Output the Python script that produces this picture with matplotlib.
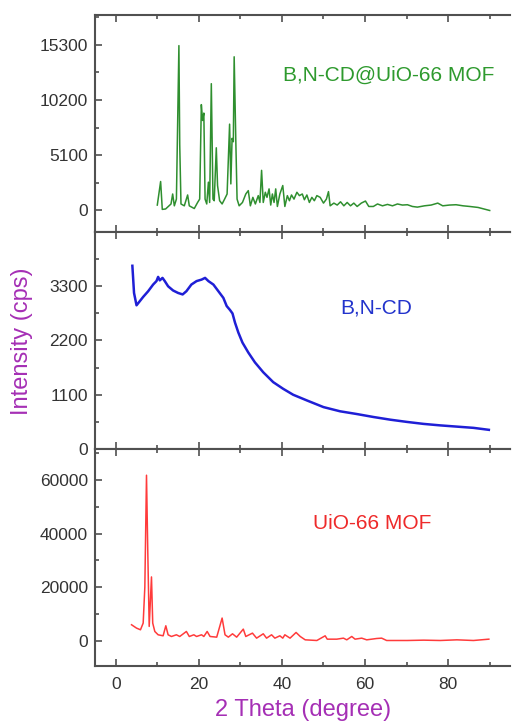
import matplotlib
matplotlib.use("Agg")
import matplotlib.pyplot as plt
from matplotlib.ticker import MultipleLocator

plt.rcParams["font.family"] = ["Liberation Sans", "DejaVu Sans"]

# B,N-CD@UiO-66 MOF
comp_2t = [10.0, 10.8, 11.2, 12.0, 13.3, 13.7, 14.1, 14.6, 15.2, 15.4, 15.7, 16.5, 17.3, 17.7,
           18.9, 19.7, 20.2, 20.6, 20.9, 21.2, 21.5, 21.9, 22.3, 22.6, 23.0, 23.4, 23.7, 24.2,
           24.5, 25.0, 25.6, 26.2, 26.8, 27.4, 27.7, 28.0, 28.3, 28.5, 28.9, 29.2, 29.7, 30.5,
           31.3, 31.9, 32.4, 33.0, 33.6, 34.3, 34.7, 35.1, 35.5, 36.0, 36.4, 36.9, 37.3, 37.7,
           38.1, 38.5, 38.9, 39.5, 40.2, 40.7, 41.3, 41.8, 42.3, 42.9, 43.6, 44.2, 44.9, 45.4,
           46.0, 46.6, 47.2, 47.8, 48.4, 49.2, 50.0, 50.7, 51.2, 51.6, 52.5, 53.3, 54.1, 54.9,
           55.7, 56.5, 57.3, 58.1, 59.1, 60.1, 60.9, 62.0, 63.0, 64.2, 65.4, 66.6, 67.8, 69.0,
           70.2, 71.4, 72.6, 74.3, 75.9, 77.5, 78.7, 80.3, 81.9, 83.6, 85.2, 87.2, 88.8, 90.0]
comp_cps = [500, 2670, 100, 140, 600, 1520, 430, 1050, 15200, 6030, 600, 430, 1430, 430,
            180, 740, 1050, 9760, 8300, 8980, 1050, 600, 2610, 740, 11690, 1050, 900, 5780,
            2300, 900, 600, 1050, 1520, 7960, 2450, 6650, 6340, 14170, 6340, 1050, 430, 740,
            1520, 1830, 430, 1210, 600, 1370, 740, 3700, 740, 1680, 1210, 1990, 500, 1520,
            740, 1990, 370, 1520, 2300, 370, 1370, 900, 1430, 1050, 1680, 1370, 1520, 990,
            1430, 740, 1210, 900, 1370, 1210, 680, 1050, 1740, 430, 680, 500, 800, 430,
            740, 430, 680, 370, 680, 870, 370, 370, 600, 430, 560, 430, 600, 500,
            530, 370, 310, 430, 500, 680, 430, 500, 530, 430, 370, 280, 120, 0]

# B,N-CD
cd_2t = [4.0, 4.4, 5.0, 5.8, 6.6, 7.8, 9.0, 9.8, 10.2, 10.6, 11.25, 11.8, 12.6, 13.8, 15.0,
         16.1, 17.0, 18.2, 19.45, 20.65, 21.5, 22.3, 23.5, 24.7, 25.9, 26.7, 27.5, 28.1, 28.7,
         29.5, 30.5, 31.9, 33.5, 35.5, 37.9, 40.3, 42.7, 46.0, 50.0, 54.0, 58.0, 62.0, 66.1,
         70.1, 74.1, 78.1, 82.1, 86.1, 89.8]
cd_cps = [3710, 3160, 2910, 2995, 3080, 3195, 3330, 3400, 3485, 3415, 3465, 3400, 3295, 3210, 3160,
          3130, 3195, 3330, 3400, 3430, 3465, 3400, 3330, 3195, 3060, 2895, 2815, 2745, 2560,
          2360, 2155, 1955, 1755, 1555, 1355, 1220, 1100, 985, 850, 765, 710, 650, 595,
          550, 510, 480, 455, 430, 390]

# UiO-66 MOF
mof_2t = [3.8, 5.0, 5.95, 6.6, 7.0, 7.4, 7.7, 8.05, 8.6, 8.9, 9.4, 10.2, 11.4, 12.05, 12.6,
          13.4, 14.6, 15.4, 17.0, 17.7, 18.8, 19.45, 20.65, 21.2, 22.0, 22.7, 24.3, 25.6, 26.3,
          27.1, 28.1, 29.1, 30.7, 31.3, 32.9, 33.9, 35.5, 36.3, 37.5, 38.3, 39.5, 40.2, 40.7,
          41.95, 43.4, 44.4, 45.6, 48.4, 50.4, 50.9, 53.2, 54.8, 55.6, 56.8, 57.6, 59.2, 60.4,
          62.8, 64.0, 65.2, 70.2, 74.1, 78.1, 82.1, 86.1, 89.8]
mof_cps = [5990, 4740, 4120, 6610, 20000, 61760, 34060, 5370, 23830, 6610, 3490, 2250, 1870, 5610, 2250,
           1620, 2250, 1620, 3490, 1620, 2250, 1620, 2250, 1620, 3490, 1620, 1370, 8490, 2250,
           1370, 2620, 1370, 4370, 1620, 2870, 1000, 2620, 1000, 2250, 1000, 1870, 1000, 2250,
           1000, 3120, 1620, 370, 125, 1870, 620, 620, 1000, 370, 1620, 620, 1000, 370,
           870, 1000, 125, 125, 250, 125, 370, 125, 620]

panels = [
    (comp_2t, comp_cps, "#2f8f2f", 1.1, "B,N-CD@UiO-66 MOF", "#2e9a2e", (-2000, 18000), 5100, (65.6, 12490)),
    (cd_2t, cd_cps, "#1f1fd6", 1.8, "B,N-CD", "#2233cc", (0, 4390), 1100, (62.8, 2860)),
    (mof_2t, mof_cps, "#ff3b3b", 1.1, "UiO-66 MOF", "#ee2a2a", (-9400, 71500), 20000, (61.6, 43800)),
]

fig, axes = plt.subplots(3, 1, figsize=(5.12, 7.26), dpi=100, sharex=True)
fig.subplots_adjust(left=0.1855, right=0.997, top=0.979, bottom=0.0826, hspace=0)

spine_col = "#505050"
for ax, (xs, ys, lc, lw, name, tc, ylim, step, pos) in zip(axes, panels):
    ax.plot(xs, ys, color=lc, lw=lw)
    ax.set_xlim(-5, 95)
    ax.set_ylim(*ylim)
    ax.yaxis.set_major_locator(MultipleLocator(step))
    ax.yaxis.set_minor_locator(MultipleLocator(step / 2))
    ax.xaxis.set_major_locator(MultipleLocator(20))
    ax.xaxis.set_minor_locator(MultipleLocator(10))
    ax.tick_params(which="both", direction="in", top=True, bottom=True, left=True, right=False,
                   color=spine_col, width=1.2, labelsize=12.5, labelcolor="#333333", pad=5)
    ax.tick_params(which="major", length=5)
    ax.tick_params(which="minor", length=3)
    for side in ("left", "top", "bottom"):
        ax.spines[side].set_color(spine_col)
        ax.spines[side].set_linewidth(1.5)
    ax.spines["right"].set_visible(False)
    ax.text(pos[0], pos[1], name, color=tc, fontsize=15, ha="center", va="center")

axes[2].tick_params(axis="x", pad=8)
axes[2].set_xlabel("2 Theta (degree)", color="#a52fb5", fontsize=17, labelpad=5)
fig.text(0.043, 0.53, "Intensity (cps)", color="#a52fb5", fontsize=17,
         rotation=90, ha="center", va="center")

fig.savefig("out.png", dpi=100)
